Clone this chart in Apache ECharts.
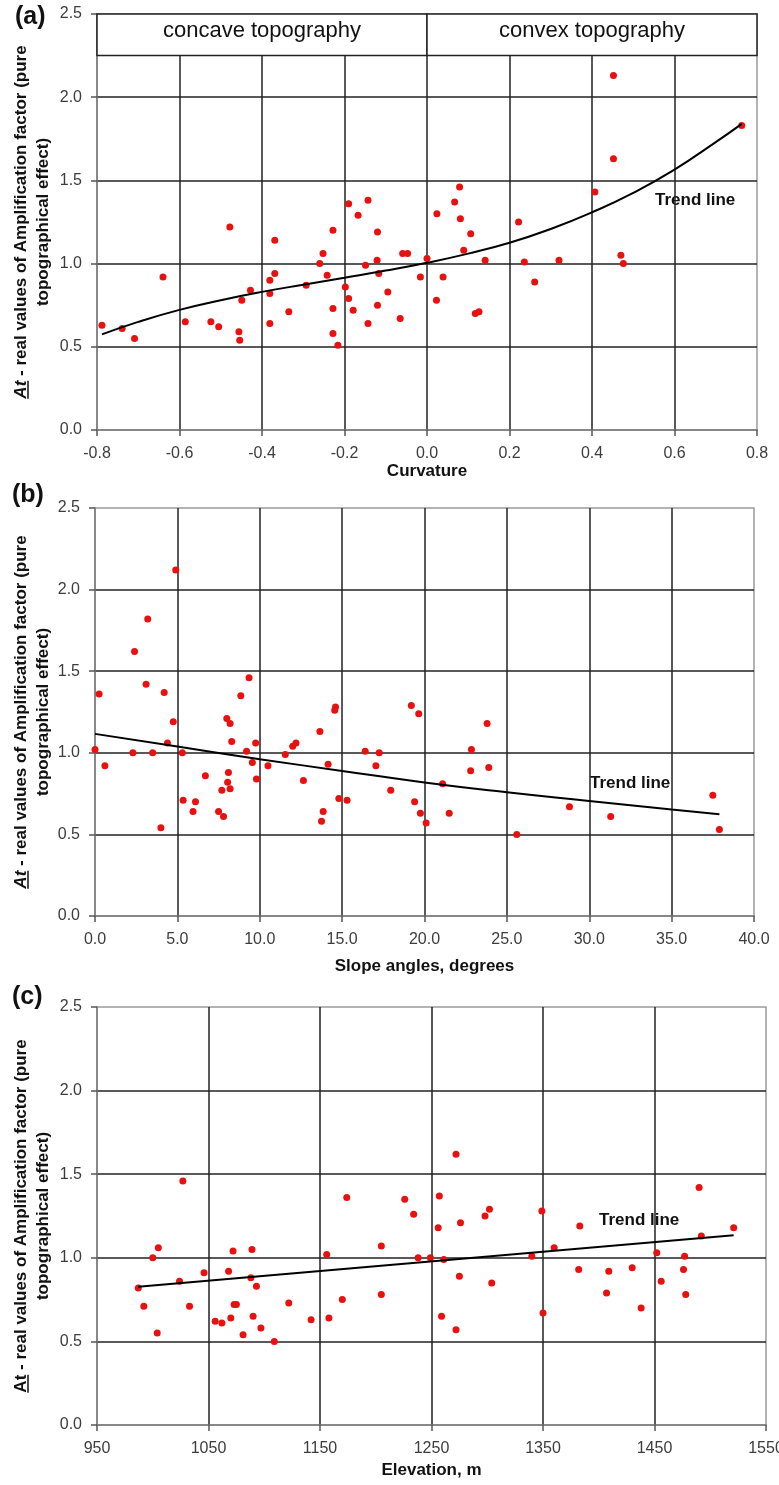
<!DOCTYPE html>
<html>
<head>
<meta charset="utf-8">
<script src="https://cdn.jsdelivr.net/npm/echarts@6/dist/echarts.min.js"></script>
<style>
  html, body { margin: 0; padding: 0; background: #fff; }
  #chart { width: 779px; height: 1485px; }
</style>
</head>
<body>
<div id="chart"></div>
<script>
// (a) curvature
const curvX = [-0.788, -0.739, -0.709, -0.64, -0.586, -0.524, -0.505, -0.478, -0.456, -0.454, -0.449, -0.428,
  -0.381, -0.381, -0.381, -0.369, -0.369, -0.335, -0.293, -0.26, -0.252, -0.242, -0.228, -0.228, -0.228, -0.216,
  -0.198, -0.19, -0.19, -0.179, -0.167, -0.149, -0.143, -0.143, -0.12, -0.121, -0.117, -0.12, -0.095, -0.065,
  -0.059, -0.047, -0.016, 0.0, 0.024, 0.023, 0.039, 0.067, 0.079, 0.081, 0.089, 0.106, 0.117, 0.126, 0.141,
  0.222, 0.236, 0.261, 0.32, 0.407, 0.452, 0.452, 0.47, 0.476, 0.763];
const curvAt = [0.63, 0.61, 0.55, 0.92, 0.65, 0.65, 0.62, 1.22, 0.59, 0.54, 0.78, 0.84,
  0.90, 0.82, 0.64, 1.14, 0.94, 0.71, 0.87, 1.00, 1.06, 0.93, 1.20, 0.73, 0.58, 0.51,
  0.86, 1.36, 0.79, 0.72, 1.29, 0.99, 1.38, 0.64, 1.19, 1.02, 0.94, 0.75, 0.83, 0.67,
  1.06, 1.06, 0.92, 1.03, 1.30, 0.78, 0.92, 1.37, 1.46, 1.27, 1.08, 1.18, 0.70, 0.71, 1.02,
  1.25, 1.01, 0.89, 1.02, 1.43, 2.13, 1.63, 1.05, 1.00, 1.83];
const curvTrendX = [-0.788, -0.7, -0.6, -0.5, -0.4, -0.3, -0.2, -0.1, 0, 0.1, 0.2, 0.3, 0.4, 0.5, 0.6, 0.7, 0.763];
const curvTrendY = [0.575, 0.650, 0.722, 0.780, 0.830, 0.873, 0.915, 0.958, 1.005, 1.060, 1.125, 1.208, 1.308, 1.425, 1.565, 1.730, 1.840];

// (b) slope angles
const slopeX = [0.0, 0.25, 0.6, 2.3, 2.4, 3.1, 3.2, 3.5, 4.0, 4.2, 4.4, 4.75, 4.9, 5.3, 5.35, 5.95, 6.1, 6.7,
  7.5, 7.7, 7.8, 8.0, 8.1, 8.05, 8.2, 8.2, 8.3, 8.85, 9.2, 9.35, 9.55, 9.75, 9.8, 10.5, 11.55, 12.0, 12.2,
  12.65, 13.65, 13.75, 13.85, 14.15, 14.55, 14.6, 14.8, 15.3, 16.4, 17.05, 17.25, 17.95, 19.2, 19.4, 19.65,
  19.75, 20.1, 21.1, 21.5, 22.8, 22.85, 23.8, 23.9, 25.6, 28.8, 31.3, 37.5, 37.9];
const slopeAt = [1.02, 1.36, 0.92, 1.00, 1.62, 1.42, 1.82, 1.00, 0.54, 1.37, 1.06, 1.19, 2.12, 1.00, 0.71, 0.64, 0.70, 0.86,
  0.64, 0.77, 0.61, 1.21, 0.88, 0.82, 1.18, 0.78, 1.07, 1.35, 1.01, 1.46, 0.94, 1.06, 0.84, 0.92, 0.99, 1.04, 1.06,
  0.83, 1.13, 0.58, 0.64, 0.93, 1.26, 1.28, 0.72, 0.71, 1.01, 0.92, 1.00, 0.77, 1.29, 0.70, 1.24,
  0.63, 0.57, 0.81, 0.63, 0.89, 1.02, 1.18, 0.91, 0.50, 0.67, 0.61, 0.74, 0.53];
const slopeTrendX = [0, 5, 10, 15, 20, 25, 30, 35, 37.9];
const slopeTrendY = [1.116, 1.038, 0.961, 0.889, 0.818, 0.758, 0.705, 0.652, 0.623];

// (c) elevation
const elevX = [987, 992, 1000, 1004, 1005, 1024, 1027, 1033, 1046, 1056, 1062, 1068, 1070, 1072, 1073, 1075, 1081,
  1088, 1089, 1090, 1093, 1097, 1109, 1122, 1142, 1156, 1158, 1170, 1174, 1205, 1205, 1226, 1234, 1238, 1249,
  1256, 1257, 1259, 1261, 1272, 1272, 1275, 1276, 1298, 1302, 1304, 1340, 1349, 1350, 1360, 1382, 1383, 1407,
  1409, 1430, 1438, 1452, 1456, 1476, 1477, 1478, 1490, 1492, 1521];
const elevAt = [0.82, 0.71, 1.00, 0.55, 1.06, 0.86, 1.46, 0.71, 0.91, 0.62, 0.61, 0.92, 0.64, 1.04, 0.72, 0.72, 0.54,
  0.88, 1.05, 0.65, 0.83, 0.58, 0.50, 0.73, 0.63, 1.02, 0.64, 0.75, 1.36, 1.07, 0.78, 1.35, 1.26, 1.00, 1.00,
  1.18, 1.37, 0.65, 0.99, 1.62, 0.57, 0.89, 1.21, 1.25, 1.29, 0.85, 1.01, 1.28, 0.67, 1.06, 0.93, 1.19, 0.79,
  0.92, 0.94, 0.70, 1.03, 0.86, 0.93, 1.01, 0.78, 1.42, 1.13, 1.18];
const elevTrendX = [987, 1521];
const elevTrendY = [0.827, 1.135];

const FONT = '"Liberation Sans", Arial, sans-serif';
const pairs = (xs, ys) => xs.map((x, i) => [x, ys[i]]);

const measurer = document.createElement('canvas').getContext('2d');
function textWidth(text, font) {
  measurer.font = font;
  return measurer.measureText(text).width;
}

// rotated two-line y title with underlined "At"
function yTitle(cx, cy, italic) {
  const boldFont = 'bold 17px ' + FONT;
  const atFont = (italic ? 'italic ' : '') + boldFont;
  const rest = ' - real values of Amplification factor (pure';
  const wAt = textWidth('At', atFont);
  const wRest = textWidth(rest, boldFont);
  const x0 = -(wAt + wRest) / 2;
  return {
    type: 'group', x: cx, y: cy, rotation: Math.PI / 2,
    children: [
      { type: 'text', x: x0, y: -11, style: { text: 'At', font: atFont, fill: '#111', align: 'left', verticalAlign: 'middle', textAlign: 'left', textVerticalAlign: 'middle' } },
      { type: 'text', x: x0 + wAt, y: -11, style: { text: rest, font: boldFont, fill: '#111', align: 'left', verticalAlign: 'middle', textAlign: 'left', textVerticalAlign: 'middle' } },
      { type: 'line', shape: { x1: x0, y1: -4, x2: x0 + wAt, y2: -4 }, style: { stroke: '#111', lineWidth: 1.5 } },
      { type: 'text', x: 0, y: 11, style: { text: 'topographical effect)', font: boldFont, fill: '#111', align: 'center', verticalAlign: 'middle', textAlign: 'center', textVerticalAlign: 'middle' } }
    ]
  };
}

function plainText(x, y, text, size) {
  return {
    type: 'text', x: x, y: y,
    style: { text: text, font: 'bold ' + size + 'px ' + FONT, fill: '#111', align: 'left', verticalAlign: 'middle', textAlign: 'left', textVerticalAlign: 'middle' }
  };
}

function xAxisOf(gridIndex, min, max, interval, name, nameGap, fmt) {
  return {
    type: 'value', gridIndex: gridIndex, min: min, max: max, interval: interval,
    name: name, nameLocation: 'middle', nameGap: nameGap,
    nameTextStyle: { fontFamily: FONT, fontWeight: 'bold', fontSize: 17, color: '#111' },
    axisLine: { show: true, onZero: false, lineStyle: { color: '#7a7a7a', width: 1.5 } },
    axisTick: { show: true, length: 6, lineStyle: { color: '#555', width: 1.5 } },
    axisLabel: { show: true, margin: 16, fontFamily: FONT, fontSize: 16, color: '#3c3c3c', formatter: fmt, showMinLabel: true, showMaxLabel: true, hideOverlap: false },
    splitLine: { show: true, showMinLine: false, showMaxLine: false, lineStyle: { color: '#222', width: 1.5 } }
  };
}

function yAxisOf(gridIndex) {
  return {
    type: 'value', gridIndex: gridIndex, min: 0, max: 2.5, interval: 0.5,
    axisLine: { show: true, onZero: false, lineStyle: { color: '#7a7a7a', width: 1.5 } },
    axisTick: { show: true, length: 6, lineStyle: { color: '#555', width: 1.5 } },
    axisLabel: { show: true, margin: 15, fontFamily: FONT, fontSize: 16, color: '#3c3c3c', formatter: v => v.toFixed(1), showMinLabel: true, showMaxLabel: true },
    splitLine: { show: true, showMinLine: false, showMaxLine: false, lineStyle: { color: '#222', width: 1.5 } }
  };
}

const dotStyle = { color: '#e8110f', opacity: 1 };
const trendStyle = { color: '#000', width: 2 };

const chart = echarts.init(document.getElementById('chart'), null, { renderer: 'canvas' });
chart.setOption({
  animation: false,
  backgroundColor: '#fff',
  grid: [
    { left: 97, top: 14, width: 660, height: 416, show: true, borderColor: '#9a9a9a', borderWidth: 1.5, outerBoundsMode: 'none' },
    { left: 95, top: 508, width: 659, height: 408, show: true, borderColor: '#9a9a9a', borderWidth: 1.5, outerBoundsMode: 'none' },
    { left: 97, top: 1007, width: 669, height: 418, show: true, borderColor: '#9a9a9a', borderWidth: 1.5, outerBoundsMode: 'none' }
  ],
  xAxis: [
    xAxisOf(0, -0.8, 0.8, 0.2, 'Curvature', 28, v => v.toFixed(1)),
    xAxisOf(1, 0, 40, 5, 'Slope angles, degrees', 42, v => v.toFixed(1)),
    xAxisOf(2, 950, 1550, 100, 'Elevation, m', 37, v => String(v))
  ],
  yAxis: [yAxisOf(0), yAxisOf(1), yAxisOf(2)],
  series: [
    {
      type: 'scatter', xAxisIndex: 0, yAxisIndex: 0, symbolSize: 7, itemStyle: dotStyle,
      data: pairs(curvX, curvAt),
      markArea: {
        silent: true,
        itemStyle: { color: '#fff', borderColor: '#222', borderWidth: 1.5, opacity: 1 },
        label: { show: true, position: 'inside', offset: [0, -4], fontFamily: FONT, fontSize: 22, color: '#111' },
        data: [
          [{ name: 'concave topography', coord: [-0.8, 2.25] }, { coord: [0, 2.5] }],
          [{ name: 'convex topography', coord: [0, 2.25] }, { coord: [0.8, 2.5] }]
        ]
      }
    },
    {
      type: 'line', xAxisIndex: 0, yAxisIndex: 0, smooth: true, showSymbol: false, symbol: 'none',
      lineStyle: trendStyle, data: pairs(curvTrendX, curvTrendY), z: 3
    },
    {
      type: 'scatter', xAxisIndex: 1, yAxisIndex: 1, symbolSize: 7, itemStyle: dotStyle,
      data: pairs(slopeX, slopeAt)
    },
    {
      type: 'line', xAxisIndex: 1, yAxisIndex: 1, smooth: true, showSymbol: false, symbol: 'none',
      lineStyle: trendStyle, data: pairs(slopeTrendX, slopeTrendY), z: 3
    },
    {
      type: 'scatter', xAxisIndex: 2, yAxisIndex: 2, symbolSize: 7, itemStyle: dotStyle,
      data: pairs(elevX, elevAt)
    },
    {
      type: 'line', xAxisIndex: 2, yAxisIndex: 2, showSymbol: false, symbol: 'none',
      lineStyle: trendStyle, data: pairs(elevTrendX, elevTrendY), z: 3
    }
  ],
  graphic: [
    plainText(15, 17, '(a)', 25),
    plainText(12, 495, '(b)', 25),
    plainText(12, 997, '(c)', 25),
    yTitle(32, 222, true),
    yTitle(32, 712, true),
    yTitle(32, 1216, false),
    plainText(655, 200, 'Trend line', 17),
    plainText(590, 783, 'Trend line', 17),
    plainText(599, 1220, 'Trend line', 17)
  ]
});
</script>
</body>
</html>
